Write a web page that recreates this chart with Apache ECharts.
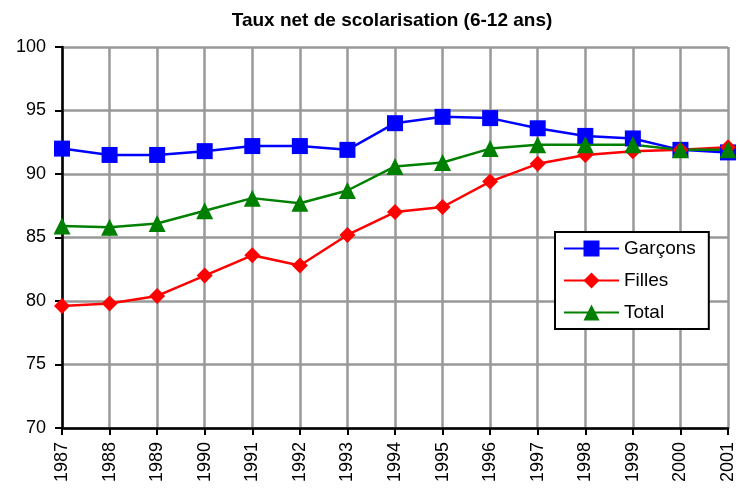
<!DOCTYPE html>
<html>
<head>
<meta charset="utf-8">
<script src="https://cdn.jsdelivr.net/npm/echarts@6/dist/echarts.min.js"></script>
<style>
  html, body { margin: 0; padding: 0; background: #fff; }
  #chart { width: 740px; height: 492px; }
</style>
</head>
<body>
<div id="chart"></div>
<script>
// Taux net de scolarisation (6-12 ans)
const years = ['1987', '1988', '1989', '1990', '1991', '1992', '1993', '1994',
               '1995', '1996', '1997', '1998', '1999', '2000', '2001'];
const garcons = [92.0, 91.5, 91.5, 91.8, 92.2, 92.2, 91.9, 94.0, 94.5, 94.4, 93.6, 93.0, 92.8, 91.9, 91.7];
const filles  = [79.6, 79.8, 80.4, 82.0, 83.6, 82.8, 85.2, 87.0, 87.4, 89.4, 90.8, 91.5, 91.8, 91.9, 92.1];
const total   = [85.9, 85.8, 86.1, 87.1, 88.1, 87.7, 88.7, 90.6, 90.9, 92.0, 92.3, 92.3, 92.3, 91.9, 91.9];

const FONT = '"Liberation Sans", Arial, sans-serif';

const chart = echarts.init(document.getElementById('chart'), null, { renderer: 'canvas' });

function mkSeries(name, data, color, symbol, size) {
    return {
        type: 'line',
        name: name,
        data: data,
        symbol: symbol,
        symbolSize: size,
        lineStyle: { color: color, width: 2.5 },
        itemStyle: { color: color },
        animation: false,
    };
}

chart.setOption({
    backgroundColor: '#fff',
    title: {
        text: 'Taux net de scolarisation (6-12 ans)',
        left: 387,
        textAlign: 'center',
        top: 6,
        textStyle: { fontFamily: FONT, fontSize: 19, fontWeight: 'bold', color: '#000' },
    },
    grid: { left: 62, right: 12, top: 47, bottom: 64 },
    legend: {
        data: ['Garçons', 'Filles', 'Total'],
        orient: 'vertical',
        left: 555,
        top: 232,
        padding: [7, 13, 7, 8],
        itemGap: 13,
        itemWidth: 55,
        itemHeight: 20,
        borderColor: '#000',
        borderWidth: 2,
        backgroundColor: '#fff',
        textStyle: { fontFamily: FONT, fontSize: 19, color: '#000' },
    },
    xAxis: {
        type: 'category',
        data: years,
        boundaryGap: false,
        axisLine: { lineStyle: { color: '#000', width: 2.5 } },
        axisTick: { show: true, length: 7, lineStyle: { color: '#000', width: 2 } },
        axisLabel: { rotate: 90, fontFamily: FONT, fontSize: 18, color: '#000', margin: 14 },
        splitLine: { show: true, lineStyle: { color: '#999', width: 2.5 } },
    },
    yAxis: {
        type: 'value',
        min: 70,
        max: 100,
        interval: 5,
        axisLine: { show: true, lineStyle: { color: '#000', width: 2.5 } },
        axisTick: { show: true, length: 7, lineStyle: { color: '#000', width: 2 } },
        axisLabel: { fontFamily: FONT, fontSize: 18, color: '#000', margin: 16 },
        splitLine: { show: true, lineStyle: { color: '#999', width: 2.5 } },
    },
    series: [
        mkSeries('Garçons', garcons, '#0000ff', 'rect', 16),
        mkSeries('Filles', filles, '#ff0000', 'diamond', 16),
        mkSeries('Total', total, '#008000', 'triangle', 17),
    ],
});
</script>
</body>
</html>
